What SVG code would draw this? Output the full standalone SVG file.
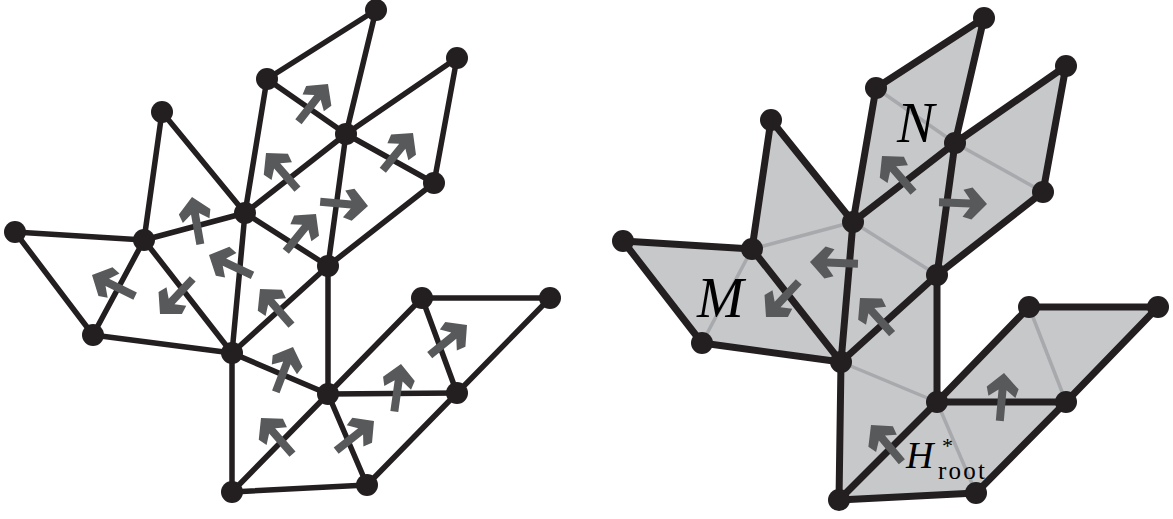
<svg xmlns="http://www.w3.org/2000/svg" xmlns:xlink="http://www.w3.org/1999/xlink" width="1173" height="519" viewBox="0 0 1173 519">
<style>
.e{stroke:#231f20;stroke-width:5.5;stroke-linecap:round;fill:none}
.eb{stroke:#231f20;stroke-width:7;stroke-linecap:round;fill:none}
.eg{stroke:#a7a9ac;stroke-width:3.5;fill:none}
.n{fill:#231f20}
.a{fill:#58595b}
.f{fill:#c7c8ca;stroke:#c7c8ca;stroke-width:1;stroke-linejoin:round}
.lbl{font-family:"Liberation Serif","DejaVu Serif",serif;font-style:italic;fill:#000}
.sub{font-family:"Liberation Serif","DejaVu Serif",serif;fill:#000}
</style>
<defs>
<path id="arr" d="M0,0 L-15,-16 L-24,-13.5 L-17,-4 L-48,-4 L-48,4 L-17,4 L-24,13.5 L-15,16 Z"/>
</defs>
<rect width="1173" height="519" fill="#fff"/>

<!-- LEFT GRAPH -->
<g id="left-connectors">
<line class="e" x1="15" y1="232" x2="144" y2="240"/>
<line class="e" x1="15" y1="232" x2="93" y2="335"/>
<line class="e" x1="144" y1="240" x2="93" y2="335"/>
<line class="e" x1="144" y1="240" x2="162" y2="112"/>
<line class="e" x1="162" y1="112" x2="245" y2="213"/>
<line class="e" x1="144" y1="240" x2="245" y2="213"/>
<line class="e" x1="144" y1="240" x2="232" y2="353"/>
<line class="e" x1="93" y1="335" x2="232" y2="353"/>
<line class="e" x1="245" y1="213" x2="232" y2="353"/>
<line class="e" x1="245" y1="213" x2="267" y2="79"/>
<line class="e" x1="267" y1="79" x2="376" y2="10"/>
<line class="e" x1="267" y1="79" x2="346" y2="134"/>
<line class="e" x1="376" y1="10" x2="346" y2="134"/>
<line class="e" x1="245" y1="213" x2="346" y2="134"/>
<line class="e" x1="346" y1="134" x2="457" y2="58"/>
<line class="e" x1="346" y1="134" x2="434" y2="183"/>
<line class="e" x1="457" y1="58" x2="434" y2="183"/>
<line class="e" x1="245" y1="213" x2="328" y2="266"/>
<line class="e" x1="346" y1="134" x2="328" y2="266"/>
<line class="e" x1="434" y1="183" x2="328" y2="266"/>
<line class="e" x1="232" y1="353" x2="328" y2="266"/>
<line class="e" x1="232" y1="353" x2="328" y2="394"/>
<line class="e" x1="232" y1="353" x2="232" y2="492"/>
<line class="e" x1="328" y1="266" x2="328" y2="394"/>
<line class="e" x1="232" y1="492" x2="328" y2="394"/>
<line class="e" x1="328" y1="394" x2="422" y2="298"/>
<line class="e" x1="328" y1="394" x2="457" y2="393"/>
<line class="e" x1="328" y1="394" x2="367" y2="485"/>
<line class="e" x1="422" y1="298" x2="550" y2="298"/>
<line class="e" x1="422" y1="298" x2="457" y2="393"/>
<line class="e" x1="550" y1="298" x2="457" y2="393"/>
<line class="e" x1="457" y1="393" x2="367" y2="485"/>
<line class="e" x1="232" y1="492" x2="367" y2="485"/>
</g>
<g id="left-arrows">
<use xlink:href="#arr" class="a" transform="translate(328,84) rotate(-52)"/>
<use xlink:href="#arr" class="a" transform="translate(413,133) rotate(-51)"/>
<use xlink:href="#arr" class="a" transform="translate(266,153) rotate(-131)"/>
<use xlink:href="#arr" class="a" transform="translate(368,206) rotate(5)"/>
<use xlink:href="#arr" class="a" transform="translate(316,214) rotate(-51)"/>
<use xlink:href="#arr" class="a" transform="translate(192,197) rotate(-100)"/>
<use xlink:href="#arr" class="a" transform="translate(209,255) rotate(-155)"/>
<use xlink:href="#arr" class="a" transform="translate(92,275) rotate(-154)"/>
<use xlink:href="#arr" class="a" transform="translate(160,314) rotate(133)"/>
<use xlink:href="#arr" class="a" transform="translate(260,289) rotate(-131)"/>
<use xlink:href="#arr" class="a" transform="translate(293,347) rotate(-69)"/>
<use xlink:href="#arr" class="a" transform="translate(261,418) rotate(-131)"/>
<use xlink:href="#arr" class="a" transform="translate(401,364) rotate(-82)"/>
<use xlink:href="#arr" class="a" transform="translate(467,325) rotate(-39)"/>
<use xlink:href="#arr" class="a" transform="translate(374,421) rotate(-38)"/>
</g>
<g id="L-A"><circle class="n" cx="15" cy="232" r="11"/></g>
<g id="L-B"><circle class="n" cx="144" cy="240" r="11"/></g>
<g id="L-C"><circle class="n" cx="162" cy="112" r="11"/></g>
<g id="L-D"><circle class="n" cx="93" cy="335" r="11"/></g>
<g id="L-E"><circle class="n" cx="245" cy="213" r="11"/></g>
<g id="L-F"><circle class="n" cx="232" cy="353" r="11"/></g>
<g id="L-G"><circle class="n" cx="267" cy="79" r="11"/></g>
<g id="L-H"><circle class="n" cx="376" cy="10" r="11"/></g>
<g id="L-I"><circle class="n" cx="346" cy="134" r="11"/></g>
<g id="L-J"><circle class="n" cx="457" cy="58" r="11"/></g>
<g id="L-K"><circle class="n" cx="434" cy="183" r="11"/></g>
<g id="L-L"><circle class="n" cx="328" cy="266" r="11"/></g>
<g id="L-M"><circle class="n" cx="328" cy="394" r="11"/></g>
<g id="L-N"><circle class="n" cx="422" cy="298" r="11"/></g>
<g id="L-O"><circle class="n" cx="550" cy="298" r="11"/></g>
<g id="L-P"><circle class="n" cx="457" cy="393" r="11"/></g>
<g id="L-Q"><circle class="n" cx="232" cy="492" r="11"/></g>
<g id="L-R"><circle class="n" cx="367" cy="485" r="11"/></g>

<!-- RIGHT GRAPH -->
<g id="right-faces">
<polygon class="f" points="623,241 752,249 702,343"/>
<polygon class="f" points="752,249 771,120 853,222"/>
<polygon class="f" points="752,249 853,222 841,362"/>
<polygon class="f" points="752,249 702,343 841,362"/>
<polygon class="f" points="853,222 876,88 955,143"/>
<polygon class="f" points="876,88 984,18 955,143"/>
<polygon class="f" points="955,143 1066,66 1043,192"/>
<polygon class="f" points="853,222 955,143 937,275"/>
<polygon class="f" points="955,143 1043,192 937,275"/>
<polygon class="f" points="853,222 937,275 841,362"/>
<polygon class="f" points="841,362 937,275 937,402"/>
<polygon class="f" points="841,362 937,402 839,500"/>
<polygon class="f" points="839,500 937,402 976,493"/>
<polygon class="f" points="937,402 1066,402 976,493"/>
<polygon class="f" points="937,402 1029,307 1066,402"/>
<polygon class="f" points="1029,307 1158,307 1066,402"/>
</g>
<g id="right-connectors">
<line class="eg" x1="876" y1="88" x2="955" y2="143"/>
<line class="eg" x1="955" y1="143" x2="1043" y2="192"/>
<line class="eg" x1="853" y1="222" x2="937" y2="275"/>
<line class="eg" x1="752" y1="249" x2="853" y2="222"/>
<line class="eg" x1="752" y1="249" x2="702" y2="343"/>
<line class="eg" x1="841" y1="362" x2="937" y2="402"/>
<line class="eg" x1="937" y1="402" x2="976" y2="493"/>
<line class="eg" x1="1029" y1="307" x2="1066" y2="402"/>
<line class="eb" x1="623" y1="241" x2="752" y2="249"/>
<line class="eb" x1="623" y1="241" x2="702" y2="343"/>
<line class="eb" x1="702" y1="343" x2="841" y2="362"/>
<line class="eb" x1="752" y1="249" x2="771" y2="120"/>
<line class="eb" x1="771" y1="120" x2="853" y2="222"/>
<line class="eb" x1="752" y1="249" x2="841" y2="362"/>
<line class="eb" x1="853" y1="222" x2="841" y2="362"/>
<line class="eb" x1="853" y1="222" x2="876" y2="88"/>
<line class="eb" x1="876" y1="88" x2="984" y2="18"/>
<line class="eb" x1="984" y1="18" x2="955" y2="143"/>
<line class="eb" x1="955" y1="143" x2="937" y2="275"/>
<line class="eb" x1="853" y1="222" x2="955" y2="143"/>
<line class="eb" x1="955" y1="143" x2="1066" y2="66"/>
<line class="eb" x1="1066" y1="66" x2="1043" y2="192"/>
<line class="eb" x1="1043" y1="192" x2="937" y2="275"/>
<line class="eb" x1="841" y1="362" x2="937" y2="275"/>
<line class="eb" x1="841" y1="362" x2="839" y2="500"/>
<line class="eb" x1="839" y1="500" x2="937" y2="402"/>
<line class="eb" x1="839" y1="500" x2="976" y2="493"/>
<line class="eb" x1="937" y1="402" x2="937" y2="275"/>
<line class="eb" x1="937" y1="402" x2="1029" y2="307"/>
<line class="eb" x1="1029" y1="307" x2="1158" y2="307"/>
<line class="eb" x1="1158" y1="307" x2="1066" y2="402"/>
<line class="eb" x1="1066" y1="402" x2="976" y2="493"/>
<line class="eb" x1="937" y1="402" x2="1066" y2="402"/>
</g>
<g id="right-arrows">
<use xlink:href="#arr" class="a" transform="translate(882,156) rotate(-131)"/>
<use xlink:href="#arr" class="a" transform="translate(987,204) rotate(2)"/>
<use xlink:href="#arr" class="a" transform="translate(810,262) rotate(-178)"/>
<use xlink:href="#arr" class="a" transform="translate(766,317) rotate(133)"/>
<use xlink:href="#arr" class="a" transform="translate(860,298) rotate(-132)"/>
<use xlink:href="#arr" class="a" transform="translate(871,425) rotate(-130)"/>
<use xlink:href="#arr" class="a" transform="translate(1004,373) rotate(-85)"/>
</g>
<g id="R-A"><circle class="n" cx="623" cy="241" r="11"/></g>
<g id="R-B"><circle class="n" cx="752" cy="249" r="11"/></g>
<g id="R-C"><circle class="n" cx="771" cy="120" r="11"/></g>
<g id="R-D"><circle class="n" cx="702" cy="343" r="11"/></g>
<g id="R-E"><circle class="n" cx="853" cy="222" r="11"/></g>
<g id="R-F"><circle class="n" cx="841" cy="362" r="11"/></g>
<g id="R-G"><circle class="n" cx="876" cy="88" r="11"/></g>
<g id="R-H"><circle class="n" cx="984" cy="18" r="11"/></g>
<g id="R-I"><circle class="n" cx="955" cy="143" r="11"/></g>
<g id="R-J"><circle class="n" cx="1066" cy="66" r="11"/></g>
<g id="R-K"><circle class="n" cx="1043" cy="192" r="11"/></g>
<g id="R-L"><circle class="n" cx="937" cy="275" r="11"/></g>
<g id="R-M"><circle class="n" cx="937" cy="402" r="11"/></g>
<g id="R-N"><circle class="n" cx="1029" cy="307" r="11"/></g>
<g id="R-O"><circle class="n" cx="1158" cy="307" r="11"/></g>
<g id="R-P"><circle class="n" cx="1066" cy="402" r="11"/></g>
<g id="R-Q"><circle class="n" cx="839" cy="500" r="11"/></g>
<g id="R-R"><circle class="n" cx="976" cy="493" r="11"/></g>
<g id="labels">
<text class="lbl" x="897" y="142" font-size="56" textLength="46">N</text>
<text class="lbl" x="697" y="317" font-size="56" textLength="54">M</text>
<text class="lbl" x="906" y="468" font-size="38" textLength="33">H</text>
<text class="sub" x="942" y="453" font-size="22">*</text>
<text class="sub" x="938" y="479" font-size="25" textLength="47">root</text>
</g>
</svg>
